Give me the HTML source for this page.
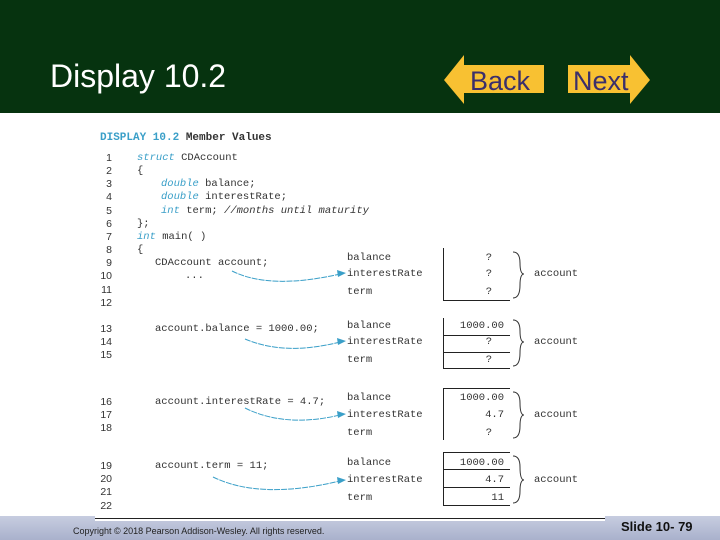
<!DOCTYPE html><html><head><style>
body{margin:0;width:720px;height:540px;position:relative;overflow:hidden;background:#fff;font-family:"Liberation Sans",sans-serif}
.t{position:absolute;font-size:10.5px;color:#333;white-space:nowrap;line-height:12px}
.m{font-family:"Liberation Mono",monospace;font-size:10.5px}
.k{color:#3a9fc8;font-style:italic}
.b{color:#3a9fc8}
.v{position:absolute;width:60px;text-align:right;font-family:"Liberation Mono",monospace;font-size:10.5px;color:#333;line-height:12px}
.ln{position:absolute;background:#222}
</style></head><body>
<div style="position:absolute;left:0;top:0;width:720px;height:113px;background:#06330f"></div>
<div style="position:absolute;left:50px;top:58px;color:#fff;font-size:32px">Display 10.2</div>
<svg style="position:absolute;left:0;top:0" width="720" height="113">
<polygon points="444,80 464,55 464,65 544,65 544,93 464,93 464,104" fill="#f8c132"/>
<polygon points="568,65 630,65 630,55 650,80 630,104 630,93 568,93" fill="#f8c132"/>
<text x="470" y="90" font-size="27" fill="#3b2f6b" font-family="Liberation Sans">Back</text>
<text x="573" y="90" font-size="27" fill="#3b2f6b" font-family="Liberation Sans">Next</text>
</svg>
<div class="t" style="left:100px;top:132px;font-weight:bold;font-size:11px;font-family:'Liberation Mono',monospace"><span class="b">DISPLAY 10.2</span> Member Values</div>
<div id="nums"></div>
<div class="t m" style="left:137px;top:152px"><span class="k">struct</span> CDAccount</div>
<div class="t m" style="left:137px;top:165px">{</div>
<div class="t m" style="left:161px;top:178px"><span class="k">double</span> balance;</div>
<div class="t m" style="left:161px;top:191px"><span class="k">double</span> interestRate;</div>
<div class="t m" style="left:161px;top:205px"><span class="k">int</span> term; <i>//months until maturity</i></div>
<div class="t m" style="left:137px;top:218px">};</div>
<div class="t m" style="left:137px;top:231px"><span class="k">int</span> main( )</div>
<div class="t m" style="left:137px;top:244px">{</div>
<div class="t m" style="left:155px;top:257px">CDAccount account;</div>
<div class="t m" style="left:185px;top:270px">...</div>
<div class="t m" style="left:155px;top:323px">account.balance = 1000.00;</div>
<div class="t m" style="left:155px;top:396px">account.interestRate = 4.7;</div>
<div class="t m" style="left:155px;top:460px">account.term = 11;</div>
<div id="gen"></div>
<script>
var y=[158,171,184,197,211,224,237,250,263,276,290,303,329,342,355,402,415,428,466,479,492,506],h='';
y.forEach(function(v,i){h+='<div class="t" style="left:100px;width:12px;text-align:right;top:'+(v-6)+'px">'+(i+1)+'</div>'});
document.getElementById('nums').innerHTML=h;
var rows=[[258,274,292,['?','?','?'],[0,0,0]],[326,342,360,['1000.00','?','?'],[1,0,0]],[398,415,433,['1000.00','4.7','?'],[0,1,0]],[463,480,498,['1000.00','4.7','11'],[0,0,1]]];
var g='',lab=['balance','interestRate','term'];
rows.forEach(function(r){for(var i=0;i<3;i++){g+='<div class="t m" style="left:347px;top:'+(r[i]-6)+'px">'+lab[i]+'</div>';
var q=r[3][i]=='?';g+='<div class="v'+(r[4][i]?' b':'')+'" style="left:'+(q?432:444)+'px;top:'+(r[i]-6)+'px">'+r[3][i]+'</div>';}
g+='<div class="t m" style="left:534px;top:'+(r[1]-6)+'px">account</div>';});
document.getElementById('gen').innerHTML=g;
</script>
<!-- box1 -->
<div class="ln" style="left:443px;top:248px;width:1px;height:52px"></div>
<div class="ln" style="left:443px;top:300px;width:67px;height:1px"></div>
<!-- box2 -->
<div class="ln" style="left:443px;top:318px;width:1px;height:50px"></div>
<div class="ln" style="left:443px;top:335px;width:67px;height:1px"></div>
<div class="ln" style="left:443px;top:352px;width:67px;height:1px"></div>
<div class="ln" style="left:443px;top:368px;width:67px;height:1px"></div>
<!-- box3 -->
<div class="ln" style="left:443px;top:388px;width:67px;height:1px"></div>
<div class="ln" style="left:443px;top:388px;width:1px;height:52px"></div>
<!-- box4 -->
<div class="ln" style="left:443px;top:452px;width:67px;height:1px"></div>
<div class="ln" style="left:443px;top:452px;width:1px;height:53px"></div>
<div class="ln" style="left:443px;top:469px;width:67px;height:1px"></div>
<div class="ln" style="left:443px;top:487px;width:67px;height:1px"></div>
<div class="ln" style="left:443px;top:505px;width:67px;height:1px"></div>
<svg style="position:absolute;left:0;top:0" width="720" height="540">
<g fill="none" stroke="#333" stroke-width="1">
<path d="M513,252 Q520,252 520,263 Q520,274 524,274 Q520,274 520,285 Q520,298 513,298"/>
<path d="M513,320 Q520,320 520,331 Q520,342 524,342 Q520,342 520,353 Q520,366 513,366"/>
<path d="M513,392 Q520,392 520,403 Q520,415 524,415 Q520,415 520,426 Q520,438 513,438"/>
<path d="M513,456 Q520,456 520,467 Q520,480 524,480 Q520,480 520,491 Q520,503 513,503"/>
</g>
<g fill="none" stroke="#3a9fc8" stroke-width="1" stroke-dasharray="6,1">
<path d="M232,271 Q270,290 340,274"/>
<path d="M245,339 Q285,356 340,342"/>
<path d="M245,408 Q285,428 340,415"/>
<path d="M213,477 Q260,500 340,481"/>
</g>
<g fill="#3a9fc8">
<polygon points="346,273 337,270 338,277"/>
<polygon points="346,341 337,338 338,345"/>
<polygon points="346,414 337,411 338,418"/>
<polygon points="346,480 337,477 338,484"/>
</g>
</svg>
<div style="position:absolute;left:0;top:516px;width:720px;height:24px;background:linear-gradient(#c7cde0,#a9b1cc)"></div>
<div style="position:absolute;left:95px;top:516px;width:510px;height:5px;background:#fff"></div>
<div class="ln" style="left:95px;top:518px;width:510px;height:1px"></div>
<div class="t" style="left:73px;top:525px;font-size:9px;color:#222">Copyright © 2018 Pearson Addison-Wesley. All rights reserved.</div>
<div class="t" style="left:621px;top:521px;font-size:13px;font-weight:bold;color:#111">Slide 10- 79</div>
</body></html>
